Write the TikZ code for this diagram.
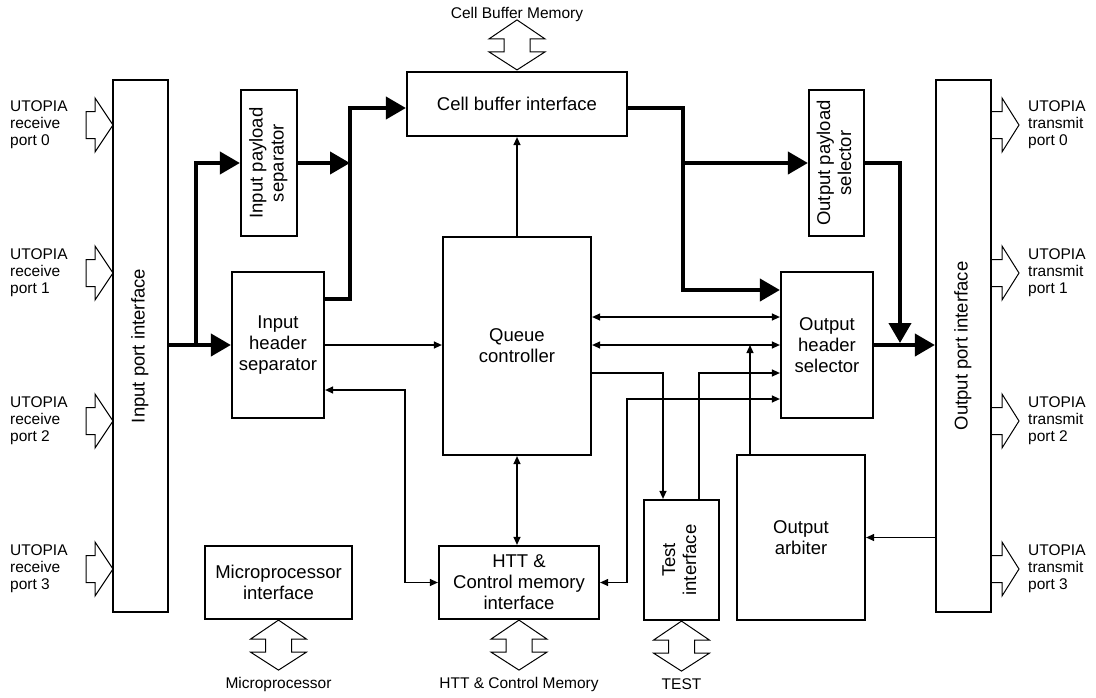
\documentclass[tikz,border=0pt]{standalone}
\usepackage{fontspec}
\setmainfont{Liberation Sans}
\usepackage{graphicx}
\usetikzlibrary{arrows.meta, positioning, calc}
\newcommand{\boxfont}{\fontsize{18.5}{21}\selectfont}
\newcommand{\lblfont}{\fontsize{15.5}{17}\selectfont}
\newcommand{\vtext}[1]{\rotatebox{90}{\begin{tabular}{@{}c@{}}#1\end{tabular}}}
\tikzset{
  block/.style={rectangle, draw=black, line width=2.2pt, fill=white,
                align=center, inner sep=0pt, font=\boxfont},
  bus/.style={-{Triangle[length=20pt, width=22pt]}, line width=4pt},
  link/.style={-{Triangle[length=8pt, width=7pt]}, line width=1.2pt},
  dlink/.style={{Triangle[length=8pt, width=7pt]}-{Triangle[length=8pt, width=7pt]},
                line width=1.2pt},
  hollow/.style={draw=black, line width=1pt, fill=white},
  lbl/.style={font=\lblfont, inner sep=0pt},
  memarrow/.pic={
    \draw[hollow] (0,0) -- (-28,19) -- (-13,19) -- (-13,32) -- (-28,32) -- (0,50)
      -- (28,32) -- (13,32) -- (13,19) -- (28,19) -- cycle;
  },
}

\begin{document}
\begin{tikzpicture}[x=1pt, y=-1pt]
    \useasboundingbox (0,0) rectangle (1096,697);

    % UTOPIA ports
    \foreach \y/\n in {125/0, 273/1, 421/2, 569/3}{
      \draw[hollow] (86,\y-13.5) -- (95,\y-13.5) -- (95,\y-27) -- (113,\y)
        -- (95,\y+27) -- (95,\y+13.5) -- (86,\y+13.5) -- cycle;
      \node[lbl, anchor=west, align=left] (rx\n) at (10,\y) {UTOPIA\\receive\\port \n};
      \draw[hollow] (992,\y-13.5) -- (1002,\y-13.5) -- (1002,\y-27) -- (1019,\y)
        -- (1002,\y+27) -- (1002,\y+13.5) -- (992,\y+13.5);
      \node[lbl, anchor=west, align=left] (tx\n) at (1028,\y) {UTOPIA\\transmit\\port \n};
    }

    % blocks
    \node[block, minimum width=55pt, minimum height=532pt] (ipi) at (140.5,346) {\vtext{Input port interface}};
    \node[block, minimum width=56pt, minimum height=146pt] (ips) at (269,163) {\vtext{Input payload\\separator}};
    \node[block, minimum width=92pt, minimum height=146pt] (ihs) at (278,345) {Input\\header\\separator};
    \node[block, minimum width=220pt, minimum height=64pt] (cbi) at (517,104) {Cell buffer interface};
    \node[block, minimum width=148pt, minimum height=218pt] (qc) at (517,346) {Queue\\controller};
    \node[block, minimum width=55pt, minimum height=146pt] (ops) at (836.5,163) {\vtext{Output payload\\selector}};
    \node[block, minimum width=92pt, minimum height=146pt] (ohs) at (827,345) {Output\\header\\selector};
    \node[block, minimum width=55pt, minimum height=532pt] (opi) at (963.5,346) {\vtext{Output port interface}};
    \node[block, minimum width=160pt, minimum height=73pt] (htt) at (519,582.5) {HTT \&\\Control memory\\interface};
    \node[block, minimum width=147pt, minimum height=73pt] (mpi) at (278.5,582.5) {Microprocessor\\interface};
    \node[block, minimum width=75pt, minimum height=120pt] (ti) at (681.5,560) {\vtext{Test\\interface}};
    \node[block, minimum width=128pt, minimum height=165pt] (oa) at (801,537.5) {Output\\arbiter};

    % memory ports
    \pic at ([yshift=51pt]cbi.north) {memarrow};
    \pic at (mpi.south) {memarrow};
    \pic at (htt.south) {memarrow};
    \pic at (ti.south) {memarrow};
    \node[lbl] (cbm) at (517,14) {Cell Buffer Memory};
    \node[lbl] (mpm) at (mpi.south |- 0,684) {Microprocessor};
    \node[lbl] (htm) at (htt.south |- 0,684) {HTT \& Control Memory};
    \node[lbl] (tst) at (ti.south |- 0,684) {TEST};

    % cell paths
    \coordinate (jin) at (196,345);
    \coordinate (jmid) at (350,163);
    \coordinate (jout) at (683,163);
    \coordinate (jtx) at (900,343);
    \draw[bus] (ipi.east |- ihs.west) -- (ihs.west);
    \draw[bus] (jin) |- (ips.west);
    \draw[bus] (ips.east) -- (jmid);
    \draw[bus] ([yshift=46pt]ihs.east) -| (jmid) |- ([yshift=-4pt]cbi.west);
    \draw[bus] ([yshift=-4pt]cbi.east) -| (jout) |- ([yshift=55pt]ohs.west);
    \draw[bus] (jout) -- (ops.west);
    \draw[bus] (ops.east) -| (jtx);
    \draw[bus] (ohs.east) -- (opi.west |- ohs.east);

    % control paths
    \coordinate (row1) at (0,317);
    \coordinate (row3) at (0,373);
    \coordinate (hbend) at (627,399);
    \coordinate (arb) at ([xshift=-51pt]oa.north);
    \draw[link] (qc.north) -- (cbi.south);
    \draw[link] (ihs.east) -- (qc.west |- ihs.east);
    \draw[dlink] ([yshift=-45pt]ihs.east) -| ([xshift=-33pt]htt.west) -- (htt.west);
    \draw[dlink] (qc.south) -- (qc.south |- htt.north);
    \draw[dlink] (qc.east |- row1) -- (ohs.west |- row1);
    \draw[dlink] (qc.east |- ohs.west) -- (ohs.west);
    \draw[link] (qc.east |- row3) -| ([xshift=-18.5pt]ti.north);
    \draw[link] ([xshift=17.5pt]ti.north) |- (ohs.west |- row3);
    \draw[dlink] (htt.east) -| (hbend) -- (ohs.west |- hbend);
    \draw[link] (arb) -- (arb |- ohs.west);
    \draw[link] (opi.west |- oa.east) -- (oa.east);
  \end{tikzpicture}
\end{document}
